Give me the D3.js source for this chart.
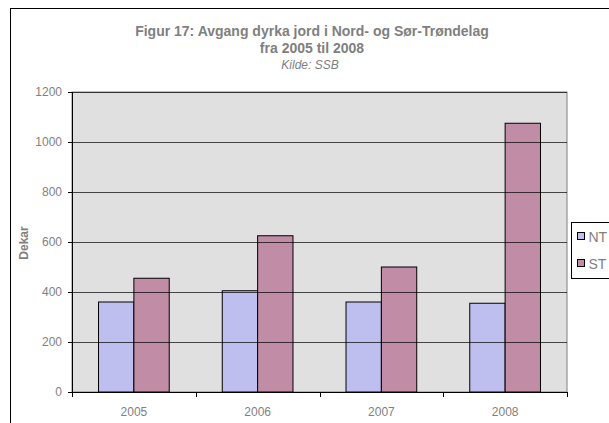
<!DOCTYPE html>
<html>
<head>
<meta charset="utf-8">
<script src="https://cdn.jsdelivr.net/npm/d3@7"></script>
<style>
  body { margin: 0; background: #fff; }
  text { font-family: "Liberation Sans", Arial, sans-serif; }
</style>
</head>
<body>
<div id="chart"></div>
<script>

// data
var years = ["2005", "2006", "2007", "2008"];
var seriesNames = ["NT", "ST"];
var ntValues = [360, 405, 360, 355];
var stValues = [455, 625, 500, 1075];
var yTicks = [0, 200, 400, 600, 800, 1000, 1200];

var colors = ["#bfbfef", "#c08ca6"];

var W = 609, H = 423;
var plot = {left: 72, right: 567, top: 92, bottom: 392};

var svg = d3.select("#chart")
  .append("svg")
    .attr("width", W)
    .attr("height", H);

// outer chart frame (runs off the right and bottom edge)
svg.append("rect")
  .attr("x", 10.5).attr("y", 8.5)
  .attr("width", 700).attr("height", 500)
  .attr("fill", "#fff")
  .attr("stroke", "#000")
  .attr("stroke-width", 1);

// scales
var x = d3.scaleBand()
  .domain(years)
  .range([plot.left, plot.right]);

var x1 = d3.scaleBand()
  .domain(seriesNames)
  .range([0, x.bandwidth()])
  .paddingInner(0)
  .paddingOuter(0.75);

var y = d3.scaleLinear()
  .domain([0, 1200])
  .range([plot.bottom, plot.top]);

// plot background
svg.append("rect")
  .attr("x", plot.left).attr("y", plot.top)
  .attr("width", plot.right - plot.left)
  .attr("height", plot.bottom - plot.top)
  .attr("fill", "#e0e0e0")
  .attr("stroke", "#808080");

// bars
var rows = years.map(function(yr, i) {
  return {year: yr, values: [ntValues[i], stValues[i]]};
});

var groups = svg.selectAll(".grp")
  .data(rows)
  .enter().append("g")
    .attr("transform", function(d) { return "translate(" + x(d.year) + ",0)"; });

groups.selectAll("rect")
  .data(function(d) { return d.values.map(function(v, k) { return {name: seriesNames[k], v: v, k: k}; }); })
  .enter().append("rect")
    .attr("x", function(d) { return x1(d.name); })
    .attr("y", function(d) { return y(d.v); })
    .attr("width", x1.bandwidth())
    .attr("height", function(d) { return y(0) - y(d.v); })
    .attr("fill", function(d) { return colors[d.k]; })
    .attr("stroke", "#000")
    .attr("stroke-width", 1);

// gridlines drawn on top, partly see-through like the original
svg.append("g")
  .selectAll("line")
  .data(yTicks.filter(function(t) { return t > 0; }))
  .enter().append("line")
    .attr("x1", plot.left).attr("x2", plot.right)
    .attr("y1", function(d) { return Math.round(y(d)) + 0.5; })
    .attr("y2", function(d) { return Math.round(y(d)) + 0.5; })
    .attr("stroke", "#000")
    .attr("stroke-opacity", 0.7);

// y axis
var yAxis = svg.append("g")
  .attr("transform", "translate(" + plot.left + ",0)")
  .call(d3.axisLeft(y).tickValues(yTicks).tickSize(4).tickPadding(6).tickFormat(d3.format("d")));
yAxis.select(".domain").attr("stroke", "#000");
yAxis.selectAll("line").attr("stroke", "#000");
yAxis.selectAll("text")
  .style("font-size", "12px")
  .attr("fill", "#7f7f7f");

// x axis
var xAxis = svg.append("g")
  .attr("transform", "translate(0," + plot.bottom + ")")
  .call(d3.axisBottom(x).tickSize(0).tickPadding(15));
xAxis.select(".domain").attr("stroke", "#000");
xAxis.selectAll("text")
  .style("font-size", "12px")
  .attr("fill", "#7f7f7f");

// category boundary ticks
svg.append("g")
  .selectAll("line")
  .data(years.concat(["end"]))
  .enter().append("line")
    .attr("x1", function(d, i) { return Math.round(plot.left + i * x.step()) + 0.5; })
    .attr("x2", function(d, i) { return Math.round(plot.left + i * x.step()) + 0.5; })
    .attr("y1", plot.bottom)
    .attr("y2", plot.bottom + 5)
    .attr("stroke", "#000");

// titles
svg.append("text")
  .attr("x", 312).attr("y", 36)
  .attr("text-anchor", "middle")
  .style("font-size", "14px")
  .style("font-weight", "bold")
  .attr("fill", "#7f7f7f")
  .text("Figur 17: Avgang dyrka jord i Nord- og Sør-Trøndelag");

svg.append("text")
  .attr("x", 312).attr("y", 53)
  .attr("text-anchor", "middle")
  .style("font-size", "14px")
  .style("font-weight", "bold")
  .attr("fill", "#7f7f7f")
  .text("fra 2005 til 2008");

svg.append("text")
  .attr("x", 310).attr("y", 69)
  .attr("text-anchor", "middle")
  .style("font-size", "12px")
  .style("font-style", "italic")
  .attr("fill", "#7f7f7f")
  .text("Kilde: SSB");

// y axis title
svg.append("text")
  .attr("transform", "translate(28,243) rotate(-90)")
  .attr("text-anchor", "middle")
  .style("font-size", "12px")
  .style("font-weight", "bold")
  .attr("fill", "#7f7f7f")
  .text("Dekar");

// legend
var legend = svg.append("g").attr("transform", "translate(571.5,222.5)");
legend.append("rect")
  .attr("width", 80).attr("height", 56)
  .attr("fill", "#fff")
  .attr("stroke", "#000");

var li = legend.selectAll(".li")
  .data(seriesNames)
  .enter().append("g")
    .attr("transform", function(d, i) { return "translate(0," + (14 + i * 27) + ")"; });
li.append("rect")
  .attr("x", 6).attr("y", -4)
  .attr("width", 7).attr("height", 7)
  .attr("fill", function(d, i) { return colors[i]; })
  .attr("stroke", "#000");
li.append("text")
  .attr("x", 17).attr("y", 5)
  .style("font-size", "14px")
  .attr("fill", "#7f7f7f")
  .text(function(d) { return d; });

</script>
</body>
</html>
